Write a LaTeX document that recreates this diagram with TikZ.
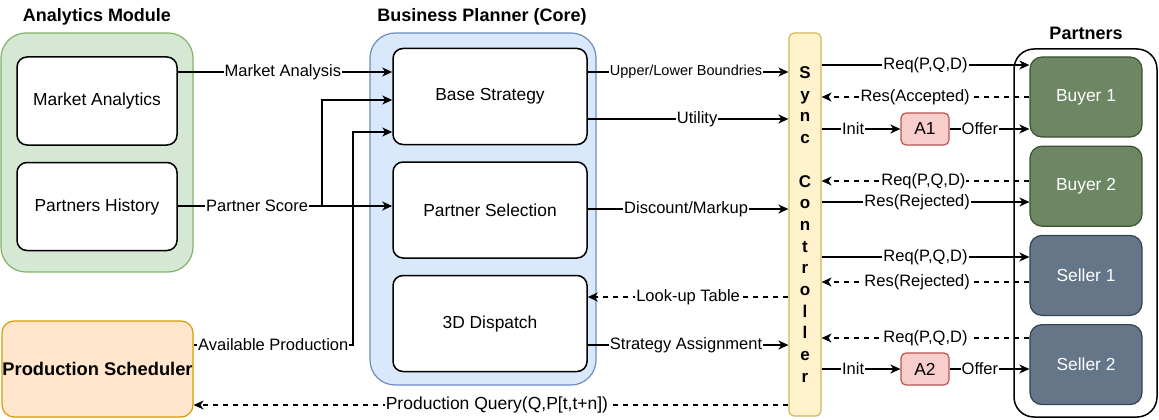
\documentclass[tikz,border=0pt]{standalone}
\usepackage{fontspec}
\setmainfont{Liberation Sans}
\usetikzlibrary{arrows.meta,positioning}

\definecolor{amfill}{HTML}{D5E8D4}
\definecolor{amline}{HTML}{82B366}
\definecolor{bpfill}{HTML}{DAE8FC}
\definecolor{bpline}{HTML}{6C8EBF}
\definecolor{psfill}{HTML}{FFE6CC}
\definecolor{psline}{HTML}{D79B00}
\definecolor{scfill}{HTML}{FFF2CC}
\definecolor{scline}{HTML}{D6B656}
\definecolor{agfill}{HTML}{F8CECC}
\definecolor{agline}{HTML}{B85450}
\definecolor{byfill}{HTML}{6D8764}
\definecolor{byline}{HTML}{3A5431}
\definecolor{slfill}{HTML}{647687}
\definecolor{slline}{HTML}{314354}

\begin{document}
\begin{tikzpicture}[x=1pt,y=-1pt,>={Stealth[length=10pt,width=9pt,inset=3pt]},every node/.append style={align=center},
  grp/.style={draw, rounded corners=25pt, line width=1.2pt},
  blk/.style={draw, fill=white, rounded corners=10pt, line width=1.5pt, minimum width=160pt, minimum height=88pt, font=\fontsize{17.4}{20}\selectfont},
  core/.style={blk, minimum width=194pt, minimum height=96pt},
  prt/.style={draw, rounded corners=12pt, line width=1.2pt, text=white, minimum width=112pt, minimum height=80pt, font=\fontsize{17.4}{20}\selectfont},
  agt/.style={draw=agline, fill=agfill, rounded corners=5pt, line width=1.2pt, minimum width=48pt, minimum height=32pt, font=\fontsize{17.4}{20}\selectfont},
  ttl/.style={font=\bfseries\fontsize{18}{21}\selectfont},
  lbl/.style={fill=white, inner sep=1pt, font=\fontsize{16.5}{19}\selectfont},
  flow/.style={->, line width=1.5pt},
  back/.style={->, line width=1.5pt, dash pattern=on 5pt off 5pt}]
    \useasboundingbox (0,0) rectangle (1159,420);
    % containers
    \node [grp, draw=amline, fill=amfill, minimum width=192pt, minimum height=239pt] (am) at (97,152.5) {};
    \node [grp, draw=bpline, fill=bpfill, minimum width=226pt, minimum height=352pt] (bp) at (483,209) {};
    \node [draw, fill=white, rounded corners=20pt, line width=1.5pt, minimum width=143pt, minimum height=368pt] (pt) at (1085.5,233) {};
    \node [ttl] (amt) at (97,17) {Analytics Module};
    \node [ttl] (bpt) at (482,17) {Business Planner (Core)};
    \node [ttl] (ptt) at (1086,33) {Partners};
    % analytics
    \node [blk] (ma) at (97,101) {Market Analytics};
    \node [blk, below=16pt of ma] (ph) {Partners History};
    \node [draw=psline, fill=psfill, rounded corners=12pt, line width=1.2pt, minimum width=191pt, minimum height=96pt, inner sep=0pt, font=\bfseries\fontsize{18.3}{21}\selectfont] (psch) at (97.5,369) {Production Scheduler};
    % planner
    \node [core] (bs) at (490,96.5) {Base Strategy};
    \node [core, below=16pt of bs] (ps) {Partner Selection};
    \node [core, below=16pt of ps] (dd) {3D Dispatch};
    % sync
    \node [draw=scline, fill=scfill, rounded corners=5pt, line width=1.2pt, minimum width=32pt, minimum height=383pt, inner sep=0pt, font=\bfseries\fontsize{17}{21.7}\selectfont] (sc) at (805,224.5) {S\\y\\n\\c\\\mbox{}\\C\\o\\n\\t\\r\\o\\l\\l\\e\\r};
    % partners
    \node [prt, draw=byline, fill=byfill] (b1) at (1086,97) {Buyer 1};
    \node [prt, draw=byline, fill=byfill, below=8pt of b1] (b2) {Buyer 2};
    \node [prt, draw=slline, fill=slfill, below=8pt of b2] (s1) {Seller 1};
    \node [prt, draw=slline, fill=slfill, below=8pt of s1] (s2) {Seller 2};
    \node [agt] (a1) at (925,129) {A1};
    \node [agt] (a2) at (925,369) {A2};
    \coordinate (split) at (322,206);
    \coordinate (bend) at (353,345);
    % left side
    \draw [flow] (ma.east |- 0,72) -- node [lbl, pos=.49] {Market Analysis} (bs.west |- 0,72);
    \draw [flow] (ph.east |- 0,206) -- node [lbl, pos=.37] {Partner Score} (ps.west |- 0,206);
    \draw [flow] (split) |- (bs.west |- 0,100);
    \draw [flow] (psch.east |- 0,345) -- node [lbl, pos=.5] {Available Production} (bend) |- (bs.west |- 0,132);
    \draw [back] (sc.west |- 0,405) -- node [lbl, pos=.49, font=\fontsize{17.5}{20}\selectfont] {Production Query(Q,P[t,t+n])} (psch.east |- 0,405);
    % middle
    \draw [flow] (bs.east |- 0,72) -- node [lbl, pos=.49, font=\fontsize{14.5}{17}\selectfont] {Upper/Lower Boundries} (sc.west |- 0,72);
    \draw [flow] (bs.east |- 0,119) -- node [lbl, pos=.545] {Utility} (sc.west |- 0,119);
    \draw [flow] (ps.east |- 0,209) -- node [lbl, pos=.49] {Discount/Markup} (sc.west |- 0,209);
    \draw [back] (sc.west |- 0,297) -- node [lbl, pos=.5] {Look-up Table} (dd.east |- 0,297);
    \draw [flow] (dd.east |- 0,345) -- node [lbl, pos=.49] {Strategy Assignment} (sc.west |- 0,345);
    % right side
    \draw [flow] (sc.east |- 0,65) -- node [lbl, pos=.5] {Req(P,Q,D)} (b1.west |- 0,65);
    \draw [back] (b1.west |- 0,97) -- node [lbl, pos=.55] {Res(Accepted)} (sc.east |- 0,97);
    \draw [flow] (sc.east |- a1.west) -- node [lbl, pos=.4] {Init} (a1.west);
    \draw [flow] (a1.east) -- node [lbl, pos=.38] {Offer} (b1.west |- a1.east);
    \draw [back] (b2.west |- 0,181) -- node [lbl, pos=.51] {Req(P,Q,D)} (sc.east |- 0,181);
    \draw [flow] (sc.east |- 0,202) -- node [lbl, pos=.46] {Res(Rejected)} (b2.west |- 0,202);
    \draw [flow] (sc.east |- 0,257) -- node [lbl, pos=.5] {Req(P,Q,D)} (s1.west |- 0,257);
    \draw [back] (s1.west |- 0,282) -- node [lbl, pos=.54] {Res(Rejected)} (sc.east |- 0,282);
    \draw [back] (s2.west |- 0,338) -- node [lbl, pos=.5] {Req(P,Q,D)} (sc.east |- 0,338);
    \draw [flow] (sc.east |- a2.west) -- node [lbl, pos=.4] {Init} (a2.west);
    \draw [flow] (a2.east) -- node [lbl, pos=.38] {Offer} (s2.west |- a2.east);
\end{tikzpicture}
\end{document}
